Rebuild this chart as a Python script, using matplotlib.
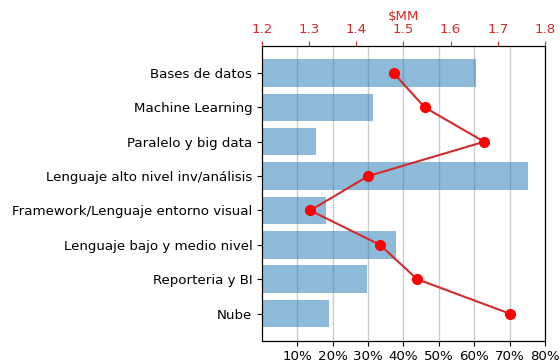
import matplotlib
matplotlib.use("Agg")
import matplotlib.pyplot as plt
from matplotlib.ticker import PercentFormatter

categories = [
    "Bases de datos",
    "Machine Learning",
    "Paralelo y big data",
    "Lenguaje alto nivel inv/análisis",
    "Framework/Lenguaje entorno visual",
    "Lenguaje bajo y medio nivel",
    "Reporteria y BI",
    "Nube",
]
share = [0.605, 0.315, 0.153, 0.753, 0.181, 0.378, 0.298, 0.190]
salary_mm = [1.479, 1.545, 1.671, 1.425, 1.302, 1.450, 1.529, 1.725]

pct_ticks = [0.1, 0.2, 0.3, 0.4, 0.5, 0.6, 0.7, 0.8]
mm_ticks = [1.2, 1.3, 1.4, 1.5, 1.6, 1.7, 1.8]

fs = 9.6
fig = plt.figure(figsize=(5.6, 3.64), dpi=100)
ax = fig.add_axes([0.468, 0.064, 0.505, 0.81])

pos = list(range(len(categories)))
ax.barh(pos, share, height=0.8, color="tab:blue", alpha=0.5, zorder=2)
ax.set_yticks(pos)
ax.set_yticklabels(categories, fontsize=fs)
ax.invert_yaxis()
ax.set_xlim(0, 0.8)
ax.set_xticks(pct_ticks)
ax.xaxis.set_major_formatter(PercentFormatter(1.0, decimals=0))
ax.tick_params(axis="x", labelsize=fs)
ax.grid(axis="x", color="#cccccc", linewidth=1.0, zorder=1)
ax.set_axisbelow(True)

top = ax.twiny()
top.plot(salary_mm, pos, color="#d42a2a", linewidth=1.5,
         marker="o", markersize=7, markerfacecolor="red",
         markeredgecolor="red", zorder=3)
top.set_xlim(1.2, 1.8)
top.set_xticks(mm_ticks)
top.tick_params(axis="x", colors="#d42a2a", labelsize=fs)
top.set_xlabel("$MM", color="#d42a2a", fontsize=fs, labelpad=2)

fig.savefig("out.png", dpi=100)
